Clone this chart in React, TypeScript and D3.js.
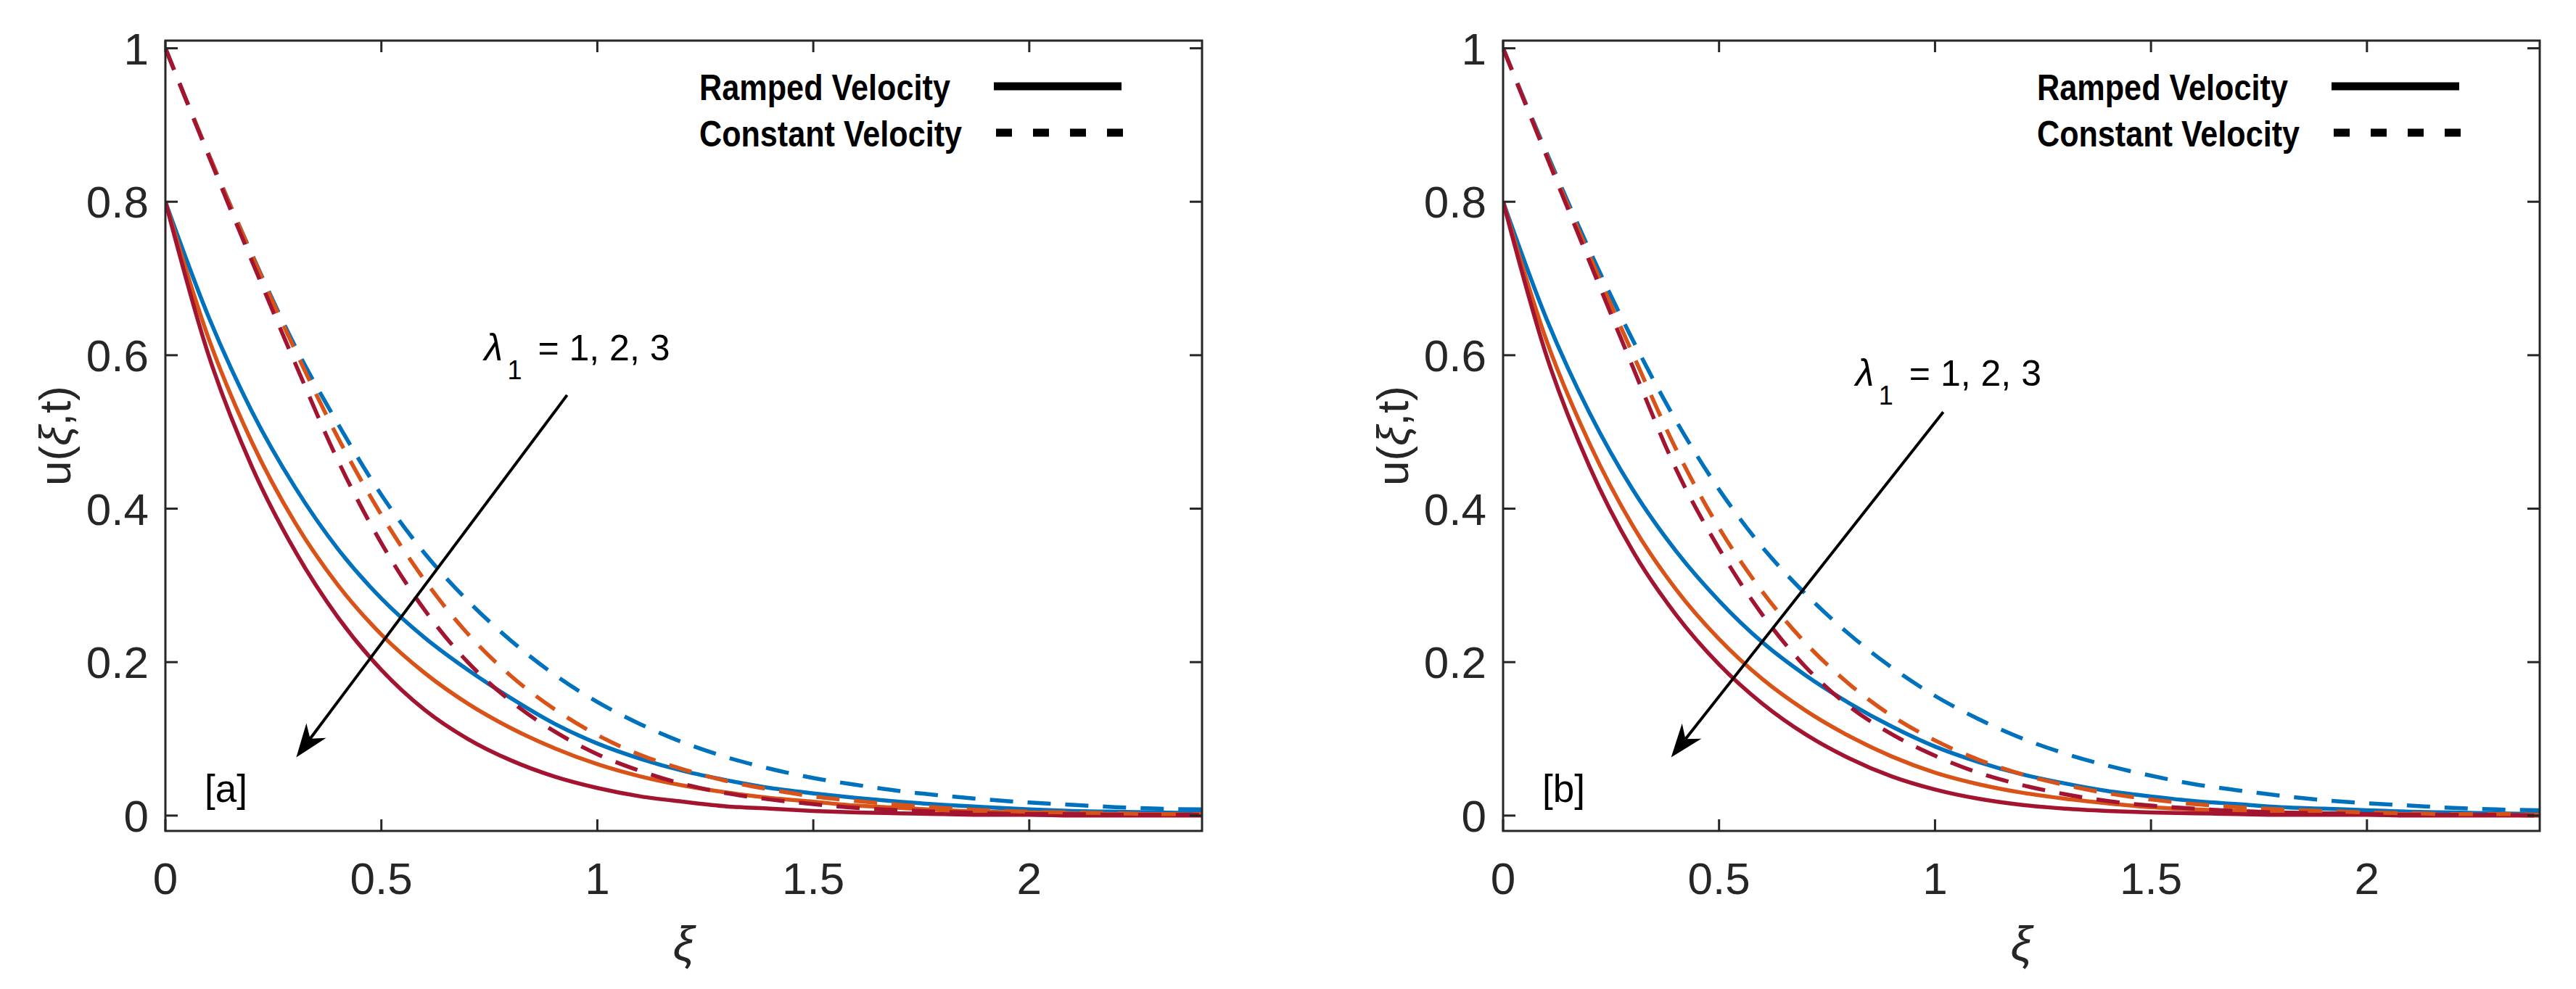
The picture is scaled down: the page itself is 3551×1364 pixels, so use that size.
import * as d3 from "d3";
import { useEffect } from "react";

// xi grid shared by every curve
const XI = [
  0, 0.1, 0.2, 0.3, 0.4, 0.5, 0.6, 0.7, 0.8, 0.9, 1.0, 1.1, 1.2, 1.3, 1.4,
  1.5, 1.6, 1.7, 1.8, 1.9, 2.0, 2.1, 2.2, 2.3, 2.4,
];

// panel [a] — ramped velocity, lambda1 = 1, 2, 3
const A_RAMP_1 = [0.8, 0.65, 0.527, 0.428, 0.347, 0.283, 0.232, 0.19, 0.153, 0.12, 0.094, 0.074, 0.058, 0.046, 0.036, 0.029, 0.023, 0.018, 0.014, 0.011, 0.008, 0.006, 0.005, 0.004, 0.003];
const A_RAMP_2 = [0.8, 0.622, 0.487, 0.382, 0.3, 0.236, 0.186, 0.146, 0.114, 0.088, 0.067, 0.051, 0.039, 0.03, 0.023, 0.018, 0.013, 0.01, 0.007, 0.005, 0.004, 0.003, 0.002, 0.002, 0.001];
const A_RAMP_3 = [0.8, 0.6, 0.455, 0.345, 0.258, 0.19, 0.138, 0.1, 0.072, 0.051, 0.036, 0.025, 0.018, 0.012, 0.009, 0.006, 0.004, 0.003, 0.002, 0.001, 0.001, 0, 0, 0, 0];
// panel [a] — constant velocity
const A_CONST_1 = [1, 0.862, 0.732, 0.612, 0.51, 0.418, 0.342, 0.28, 0.228, 0.184, 0.148, 0.119, 0.095, 0.076, 0.061, 0.049, 0.04, 0.032, 0.026, 0.021, 0.017, 0.014, 0.011, 0.009, 0.008];
const A_CONST_2 = [1, 0.862, 0.731, 0.607, 0.492, 0.392, 0.307, 0.237, 0.182, 0.139, 0.105, 0.079, 0.06, 0.045, 0.034, 0.025, 0.019, 0.014, 0.01, 0.007, 0.005, 0.004, 0.003, 0.002, 0.002];
const A_CONST_3 = [1, 0.86, 0.723, 0.59, 0.462, 0.355, 0.268, 0.2, 0.149, 0.11, 0.08, 0.058, 0.041, 0.029, 0.021, 0.015, 0.01, 0.007, 0.005, 0.003, 0.002, 0.002, 0.001, 0.001, 0.001];

// panel [b] — ramped velocity
const B_RAMP_1 = [0.8, 0.648, 0.525, 0.425, 0.345, 0.28, 0.226, 0.183, 0.147, 0.116, 0.09, 0.07, 0.054, 0.042, 0.032, 0.025, 0.019, 0.015, 0.011, 0.009, 0.007, 0.005, 0.004, 0.003, 0.002];
const B_RAMP_2 = [0.8, 0.62, 0.485, 0.378, 0.295, 0.23, 0.178, 0.137, 0.104, 0.077, 0.056, 0.041, 0.03, 0.022, 0.016, 0.011, 0.008, 0.006, 0.004, 0.003, 0.002, 0.002, 0.001, 0.001, 0.001];
const B_RAMP_3 = [0.8, 0.6, 0.455, 0.345, 0.262, 0.197, 0.146, 0.106, 0.075, 0.051, 0.034, 0.022, 0.014, 0.009, 0.006, 0.004, 0.003, 0.002, 0.001, 0.001, 0.001, 0, 0, 0, 0];
// panel [b] — constant velocity
const B_CONST_1 = [1, 0.865, 0.737, 0.62, 0.515, 0.425, 0.35, 0.289, 0.237, 0.193, 0.156, 0.126, 0.101, 0.081, 0.065, 0.052, 0.041, 0.033, 0.026, 0.02, 0.016, 0.013, 0.01, 0.008, 0.007];
const B_CONST_2 = [1, 0.862, 0.73, 0.602, 0.478, 0.375, 0.292, 0.225, 0.172, 0.13, 0.098, 0.073, 0.054, 0.04, 0.029, 0.021, 0.015, 0.011, 0.008, 0.006, 0.004, 0.003, 0.002, 0.002, 0.001];
const B_CONST_3 = [1, 0.86, 0.722, 0.585, 0.452, 0.348, 0.262, 0.194, 0.143, 0.106, 0.078, 0.056, 0.04, 0.028, 0.019, 0.013, 0.009, 0.006, 0.004, 0.003, 0.002, 0.001, 0.001, 0.001, 0];

const X_TICKS = [0, 0.5, 1, 1.5, 2];
const Y_TICKS = [0, 0.2, 0.4, 0.6, 0.8, 1];
const LEGEND_LABELS = ["Ramped Velocity", "Constant Velocity"];
const LAMBDA_TEXT = "= 1, 2, 3";

const COLORS = ["#0072BD", "#D95319", "#A2142F"];
const AXIS = "#262626";
const FONT = "'Liberation Sans', Arial, Helvetica, sans-serif";

interface Note {
  label: [number, number]; // data coords of lambda baseline start
  from: [number, number];
  to: [number, number];
}

interface PanelProps {
  left: number;
  tag: string;
  ramp: number[][];
  cons: number[][];
  note: Note;
}

const Panel = ({ left, tag, ramp, cons, note }: PanelProps) => {
  const x = d3.scaleLinear().domain([0, 2.4]).range([left, left + 1429]);
  const y = d3.scaleLinear().domain([-0.02, 1.01]).range([1146, 56]);
  const [x0, x1] = x.range();
  const [y0, y1] = y.range();

  const line = d3
    .line<number>()
    .x((_, i) => x(XI[i]))
    .y((d) => y(d))
    .curve(d3.curveMonotoneX);

  // arrow geometry (pixel space)
  const fx = x(note.from[0]);
  const fy = y(note.from[1]);
  const tx = x(note.to[0]);
  const ty = y(note.to[1]);
  const len = Math.hypot(fx - tx, fy - ty);
  const ux = (fx - tx) / len;
  const uy = (fy - ty) / len;
  const nx = -uy;
  const ny = ux;
  const head = 46;
  const half = 17;
  const notch = 32;
  const headPts = [
    [tx, ty],
    [tx + ux * head + nx * half, ty + uy * head + ny * half],
    [tx + ux * notch, ty + uy * notch],
    [tx + ux * head - nx * half, ty + uy * head - ny * half],
  ]
    .map((p) => p.join(","))
    .join(" ");

  const clipId = `clip-${tag}`;
  const lx = x(note.label[0]);
  const ly = y(note.label[1]);

  return (
    <g>
      <defs>
        <clipPath id={clipId}>
          <rect x={x0} y={y1} width={x1 - x0} height={y0 - y1} />
        </clipPath>
      </defs>

      <g clipPath={`url(#${clipId})`} fill="none" strokeWidth={5.5}>
        {ramp.map((s, i) => (
          <path key={`r${i}`} d={line(s) ?? ""} stroke={COLORS[i]} />
        ))}
        {cons.map((s, i) => (
          <path
            key={`c${i}`}
            d={line(s) ?? ""}
            stroke={COLORS[i]}
            strokeDasharray="32 20"
          />
        ))}
      </g>

      {/* box + inward ticks */}
      <rect
        x={x0}
        y={y1}
        width={x1 - x0}
        height={y0 - y1}
        fill="none"
        stroke={AXIS}
        strokeWidth={3}
      />
      <g stroke={AXIS} strokeWidth={3}>
        {X_TICKS.map((t) => (
          <g key={`xt${t}`}>
            <line x1={x(t)} x2={x(t)} y1={y0} y2={y0 - 16} />
            <line x1={x(t)} x2={x(t)} y1={y1} y2={y1 + 16} />
          </g>
        ))}
        {Y_TICKS.map((t) => (
          <g key={`yt${t}`}>
            <line x1={x0} x2={x0 + 17} y1={y(t)} y2={y(t)} />
            <line x1={x1} x2={x1 - 17} y1={y(t)} y2={y(t)} />
          </g>
        ))}
      </g>

      <g fontFamily={FONT} fontSize={62} fill={AXIS}>
        {X_TICKS.map((t) => (
          <text key={`xl${t}`} x={x(t)} y={1233} textAnchor="middle">
            {t}
          </text>
        ))}
        {Y_TICKS.map((t) => (
          <text key={`yl${t}`} x={x0 - 23} y={y(t) + 22} textAnchor="end">
            {t}
          </text>
        ))}
        <text x={(x0 + x1) / 2} y={1325} textAnchor="middle" fontSize={66} fontStyle="italic">
          ξ
        </text>
        <text
          transform={`translate(${x0 - 153},${(y0 + y1) / 2}) rotate(-90)`}
          textAnchor="middle"
          dominantBaseline="central"
        >
          u(<tspan fontStyle="italic">ξ</tspan>,t)
        </text>
      </g>

      {/* legend */}
      <g fontFamily={FONT} fontWeight="bold" fontSize={50} fill="#000">
        <text x={x0 + 736} y={138} textLength={346} lengthAdjust="spacingAndGlyphs">
          {LEGEND_LABELS[0]}
        </text>
        <text x={x0 + 736} y={202} textLength={362} lengthAdjust="spacingAndGlyphs">
          {LEGEND_LABELS[1]}
        </text>
        <line x1={x0 + 1142} x2={x0 + 1318} y1={119} y2={119} stroke="#000" strokeWidth={11} />
        <line
          x1={x0 + 1145}
          x2={x0 + 1321}
          y1={183}
          y2={183}
          stroke="#000"
          strokeWidth={11}
          strokeDasharray="22 29"
        />
      </g>

      {/* lambda annotation + arrow */}
      <g fontFamily={FONT} fill="#000">
        <text x={lx} y={ly} fontSize={52} fontStyle="italic">
          λ
        </text>
        <text x={lx + 32} y={ly + 26} fontSize={36}>
          1
        </text>
        <text x={lx + 74} y={ly} fontSize={50}>
          {LAMBDA_TEXT}
        </text>
      </g>
      <line
        x1={fx}
        y1={fy}
        x2={tx + ux * notch}
        y2={ty + uy * notch}
        stroke="#000"
        strokeWidth={4}
      />
      <polygon points={headPts} fill="#000" />

      <text x={x0 + 54} y={1106} fontFamily={FONT} fontSize={53} fill="#000">
        {tag}
      </text>
    </g>
  );
};

const App = () => {
  useEffect(() => {
    document.body.style.margin = "0";
  }, []);

  return (
    <svg
      width={3551}
      height={1364}
      viewBox="0 0 3551 1364"
      style={{ display: "block", background: "#fff" }}
    >
      <rect width={3551} height={1364} fill="#fff" />
      <Panel
        left={228}
        tag="[a]"
        ramp={[A_RAMP_1, A_RAMP_2, A_RAMP_3]}
        cons={[A_CONST_1, A_CONST_2, A_CONST_3]}
        note={{ label: [0.738, 0.593], from: [0.93, 0.548], to: [0.303, 0.076] }}
      />
      <Panel
        left={2072}
        tag="[b]"
        ramp={[B_RAMP_1, B_RAMP_2, B_RAMP_3]}
        cons={[B_CONST_1, B_CONST_2, B_CONST_3]}
        note={{ label: [0.816, 0.56], from: [1.019, 0.526], to: [0.389, 0.076] }}
      />
    </svg>
  );
};

export default App;
